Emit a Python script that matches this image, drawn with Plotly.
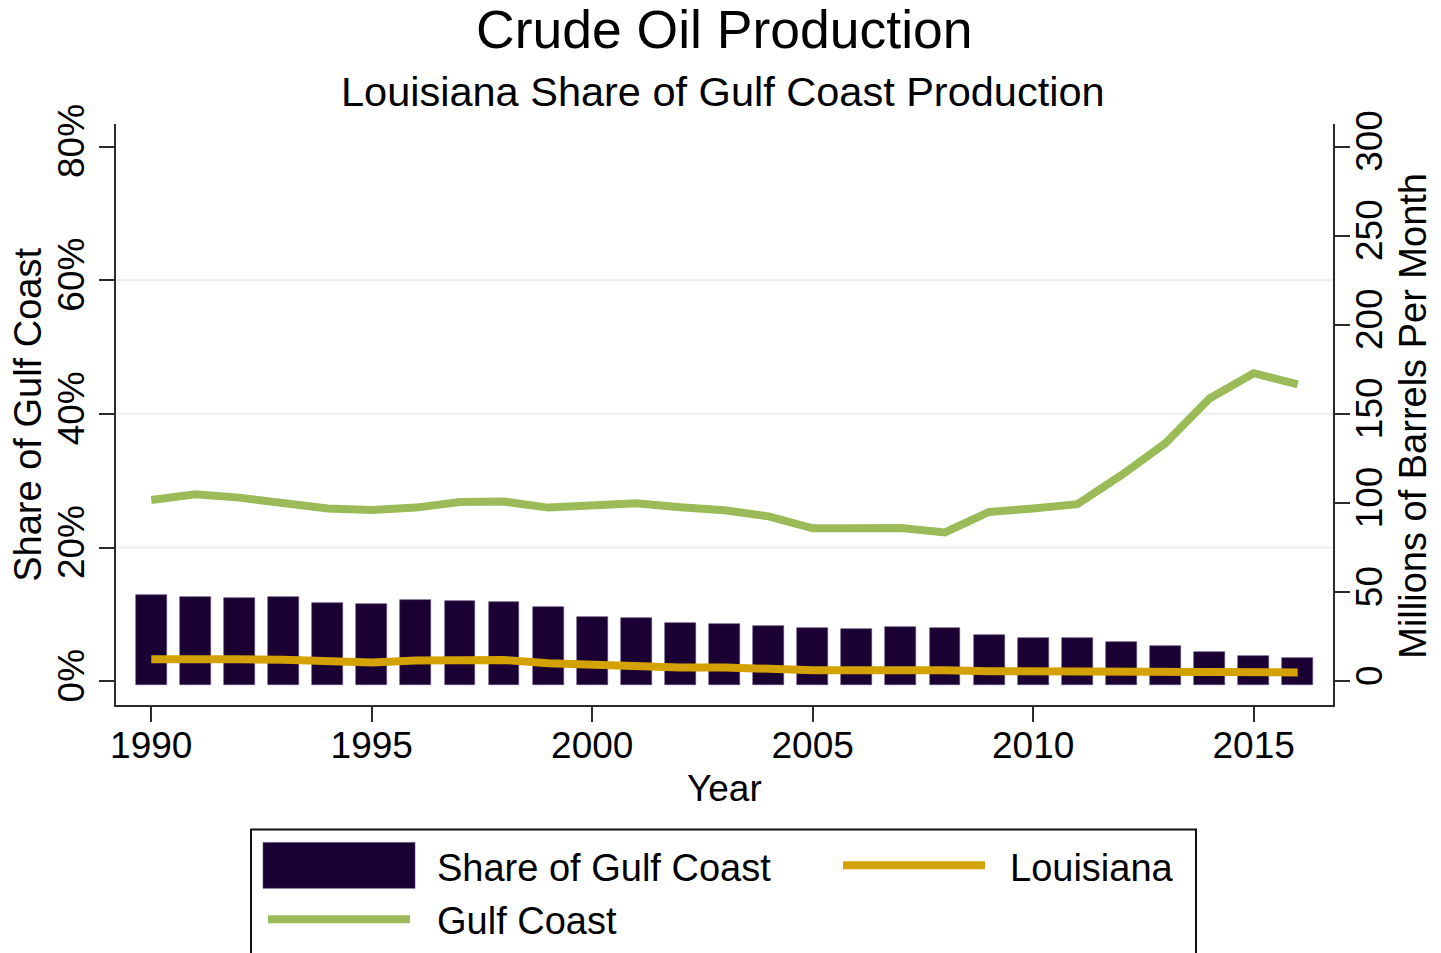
import plotly.graph_objects as go

# ---------------- data ----------------
years = list(range(1990, 2017))
share_pct = [12.9, 12.57, 12.4, 12.57, 11.77, 11.62, 12.1, 11.97, 11.92, 11.1,
             9.68, 9.47, 8.72, 8.53, 8.33, 8.03, 7.88, 8.18, 8.03, 6.88,
             6.54, 6.54, 5.94, 5.24, 4.38, 3.74, 3.54]
louisiana = [12.3, 12.7, 12.3, 12.0, 10.8, 10.5, 11.6, 11.9, 11.9, 10.1,
             9.0, 9.0, 7.7, 7.7, 6.7, 6.2, 6.2, 6.7, 6.2, 5.6,
             5.6, 5.6, 5.8, 5.8, 5.6, 5.2, 4.9]
gulf_coast = [101.7, 104.9, 103.0, 100.2, 96.9, 96.1, 97.4, 100.6, 100.8, 97.4,
              98.3, 99.8, 97.6, 95.9, 92.5, 85.8, 85.8, 86.0, 83.5, 95.0,
              96.9, 99.3, 115.6, 133.5, 158.6, 172.8, 166.6]
left_ticks = [0, 20, 40, 60, 80]
left_ticktext = ["0%", "20%", "40%", "60%", "80%"]
right_ticks = [0, 50, 100, 150, 200, 250, 300]
x_ticks = [1990, 1995, 2000, 2005, 2010, 2015]
grid_vals = [20, 40, 60]

# ---------------- style ----------------
FONT = "Liberation Sans, Arial, Helvetica, sans-serif"
BAR_C = "#1a0033"
GREEN = "#9bbb59"
GOLD = "#d4a200"
GRID_C = "#e8eff1"
AX_C = "#2b2b2b"

PAGE_W, PAGE_H = 1441, 953
OFF = 8  # default body margin of the html page
W, H = PAGE_W - OFF, PAGE_H - OFF
# plot area in page pixel coordinates
L, R = 116, 1333
T, B = 124, 705.5

def px(xp):
    return (xp - L) / (R - L)

def py(yp):
    return (B - yp) / (B - T)

YMIN, YMAX = -3.56, 83.37
SCALE = 300 / 80.0

fig = go.Figure()
fig.add_trace(go.Bar(x=years, y=[v + 0.6 for v in share_pct], base=-0.6,
                     width=0.7, marker=dict(color=BAR_C, line=dict(color="#5a4a72", width=0.6)),
                     name="Share of Gulf Coast", yaxis="y", showlegend=False))
fig.add_trace(go.Scatter(x=years, y=gulf_coast, mode="lines",
                         line=dict(color=GREEN, width=8), name="Gulf Coast",
                         yaxis="y2", showlegend=False))
fig.add_trace(go.Scatter(x=years, y=louisiana, mode="lines",
                         line=dict(color=GOLD, width=8), name="Louisiana",
                         yaxis="y2", showlegend=False))

shapes = []
for g in grid_vals:
    shapes.append(dict(type="line", xref="paper", yref="y", x0=0, x1=1, y0=g, y1=g,
                       line=dict(color=GRID_C, width=2), layer="below"))

# legend box (manual)
shapes.append(dict(type="rect", xref="paper", yref="paper",
                   x0=px(251), x1=px(1196), y0=py(965), y1=py(830),
                   line=dict(color="#111", width=2), fillcolor="rgba(0,0,0,0)"))
shapes.append(dict(type="rect", xref="paper", yref="paper",
                   x0=px(263), x1=px(415), y0=py(889), y1=py(843),
                   line=dict(color="#5a4a72", width=0.6), fillcolor=BAR_C))
shapes.append(dict(type="line", xref="paper", yref="paper",
                   x0=px(843), x1=px(985), y0=py(866), y1=py(866),
                   line=dict(color=GOLD, width=8)))
shapes.append(dict(type="line", xref="paper", yref="paper",
                   x0=px(268), x1=px(410), y0=py(920), y1=py(920),
                   line=dict(color=GREEN, width=8)))

def ann(text, x, y, size, xanchor="center", yanchor="middle", angle=0):
    return dict(text=text, x=px(x), y=py(y), xref="paper", yref="paper",
                showarrow=False, xanchor=xanchor, yanchor=yanchor, textangle=angle,
                font=dict(family=FONT, size=size, color="#000"))

annotations = [
    ann("Crude Oil Production", 724, 29, 53.5),
    ann("Louisiana Share of Gulf Coast Production", 723, 91, 41.5),
    ann("Year", 724, 789, 37),
    ann("Share of Gulf Coast", 28, 415, 38, angle=-90),
    ann("Millions of Barrels Per Month", 1413, 416, 38, angle=-90),
    ann("Share of Gulf Coast", 435, 869, 38, xanchor="left"),
    ann("Louisiana", 1008, 869, 38, xanchor="left"),
    ann("Gulf Coast", 435, 922, 38, xanchor="left"),
]

fig.update_layout(
    width=W, height=H,
    margin=dict(l=L - OFF, r=PAGE_W - R, t=T - OFF, b=PAGE_H - B, pad=0),
    paper_bgcolor="white", plot_bgcolor="white",
    font=dict(family=FONT, size=37, color="#000"),
    bargap=0,
    showlegend=False,
    xaxis=dict(range=[1989.2, 2016.8], tickvals=x_ticks, ticks="outside",
               ticklen=15, tickwidth=2, tickcolor=AX_C, showline=True,
               linecolor=AX_C, linewidth=2, showgrid=False, zeroline=False,
               tickfont=dict(size=37), ticklabelstandoff=-8),
    yaxis=dict(range=[YMIN, YMAX], tickvals=left_ticks, ticktext=left_ticktext,
               tickangle=-90, ticks="outside", ticklen=15, tickwidth=2,
               tickcolor=AX_C, showline=True, linecolor=AX_C, linewidth=2,
               showgrid=False, zeroline=False, tickfont=dict(size=37),
               ticklabelstandoff=0),
    yaxis2=dict(range=[YMIN * SCALE, YMAX * SCALE], tickvals=right_ticks,
                overlaying="y", side="right", tickangle=-90, ticks="outside",
                ticklen=15, tickwidth=2, tickcolor=AX_C, showline=True,
                linecolor=AX_C, linewidth=2, showgrid=False, zeroline=False,
                tickfont=dict(size=37), ticklabelstandoff=-12),
    shapes=shapes,
    annotations=annotations,
)

fig.write_html("out.html")
